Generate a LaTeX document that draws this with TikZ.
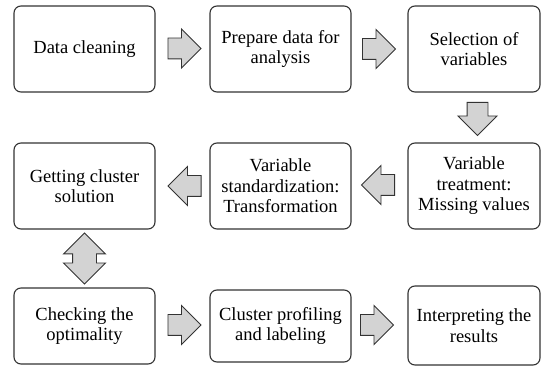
\documentclass[tikz,border=0pt]{standalone}
\usepackage{fontspec}
\setmainfont{Liberation Serif}
\usetikzlibrary{shapes.arrows}
\definecolor{boxline}{HTML}{333333}
\definecolor{arrowfill}{HTML}{D3D3D3}
\tikzset{
    stepbox/.style={draw=boxline, line width=1.1pt, rounded corners=7pt,
        align=center, minimum width=141pt, minimum height=86pt, inner sep=2pt,
        font=\fontsize{18.5}{20.5}\selectfont},
    blockarrow/.style={draw=boxline, line width=0.9pt, fill=arrowfill,
        single arrow, single arrow head extend=9pt, minimum height=33pt,
        inner xsep=0pt, inner ysep=10pt, anchor=tail},
    twoarrow/.style={draw=boxline, line width=0.9pt, fill=arrowfill,
        double arrow, double arrow head extend=9pt, minimum height=51pt,
        inner xsep=0pt, inner ysep=11.5pt}
}
\begin{document}
\begin{tikzpicture}[x=1pt,y=-1pt]
    \useasboundingbox (0,0) rectangle (542,366);
    \node[stepbox] (clean) at (84.5,49) {Data cleaning};
    \node[stepbox] (prep) at (280.5,49) {Prepare data for\\analysis};
    \node[stepbox, minimum width=132pt] (select) at (474,49) {Selection of\\variables};
    \node[stepbox, minimum width=132pt] (treat) at (474,186) {Variable\\treatment:\\Missing values};
    \node[stepbox] (stand) at (280.5,186) {Variable\\standardization:\\Transformation};
    \node[stepbox] (solve) at (84.5,186) {Getting cluster\\solution};
    \node[stepbox, minimum height=76pt] (check) at (84.5,326) {Checking the\\optimality};
    \node[stepbox, minimum height=72pt] (profile) at (280.5,326) {Cluster profiling\\and labeling};
    \node[stepbox, minimum width=132pt, minimum height=79pt] (interp) at (474,325.5) {Interpreting the\\results};
    \node[blockarrow] (a1) at (167.5,48.5) {};
    \node[blockarrow] (a2) at (362,49) {};
    \node[blockarrow, rotate=-90] (a3) at (477.5,102) {};
    \node[blockarrow, rotate=180] (a4) at (395,185) {};
    \node[blockarrow, rotate=180] (a5) at (201.5,186) {};
    \node[twoarrow, rotate=90] (a6) at (84.5,258.5) {};
    \node[blockarrow] (a7) at (167.5,325) {};
    \node[blockarrow] (a8) at (360,325) {};
\end{tikzpicture}
\end{document}
